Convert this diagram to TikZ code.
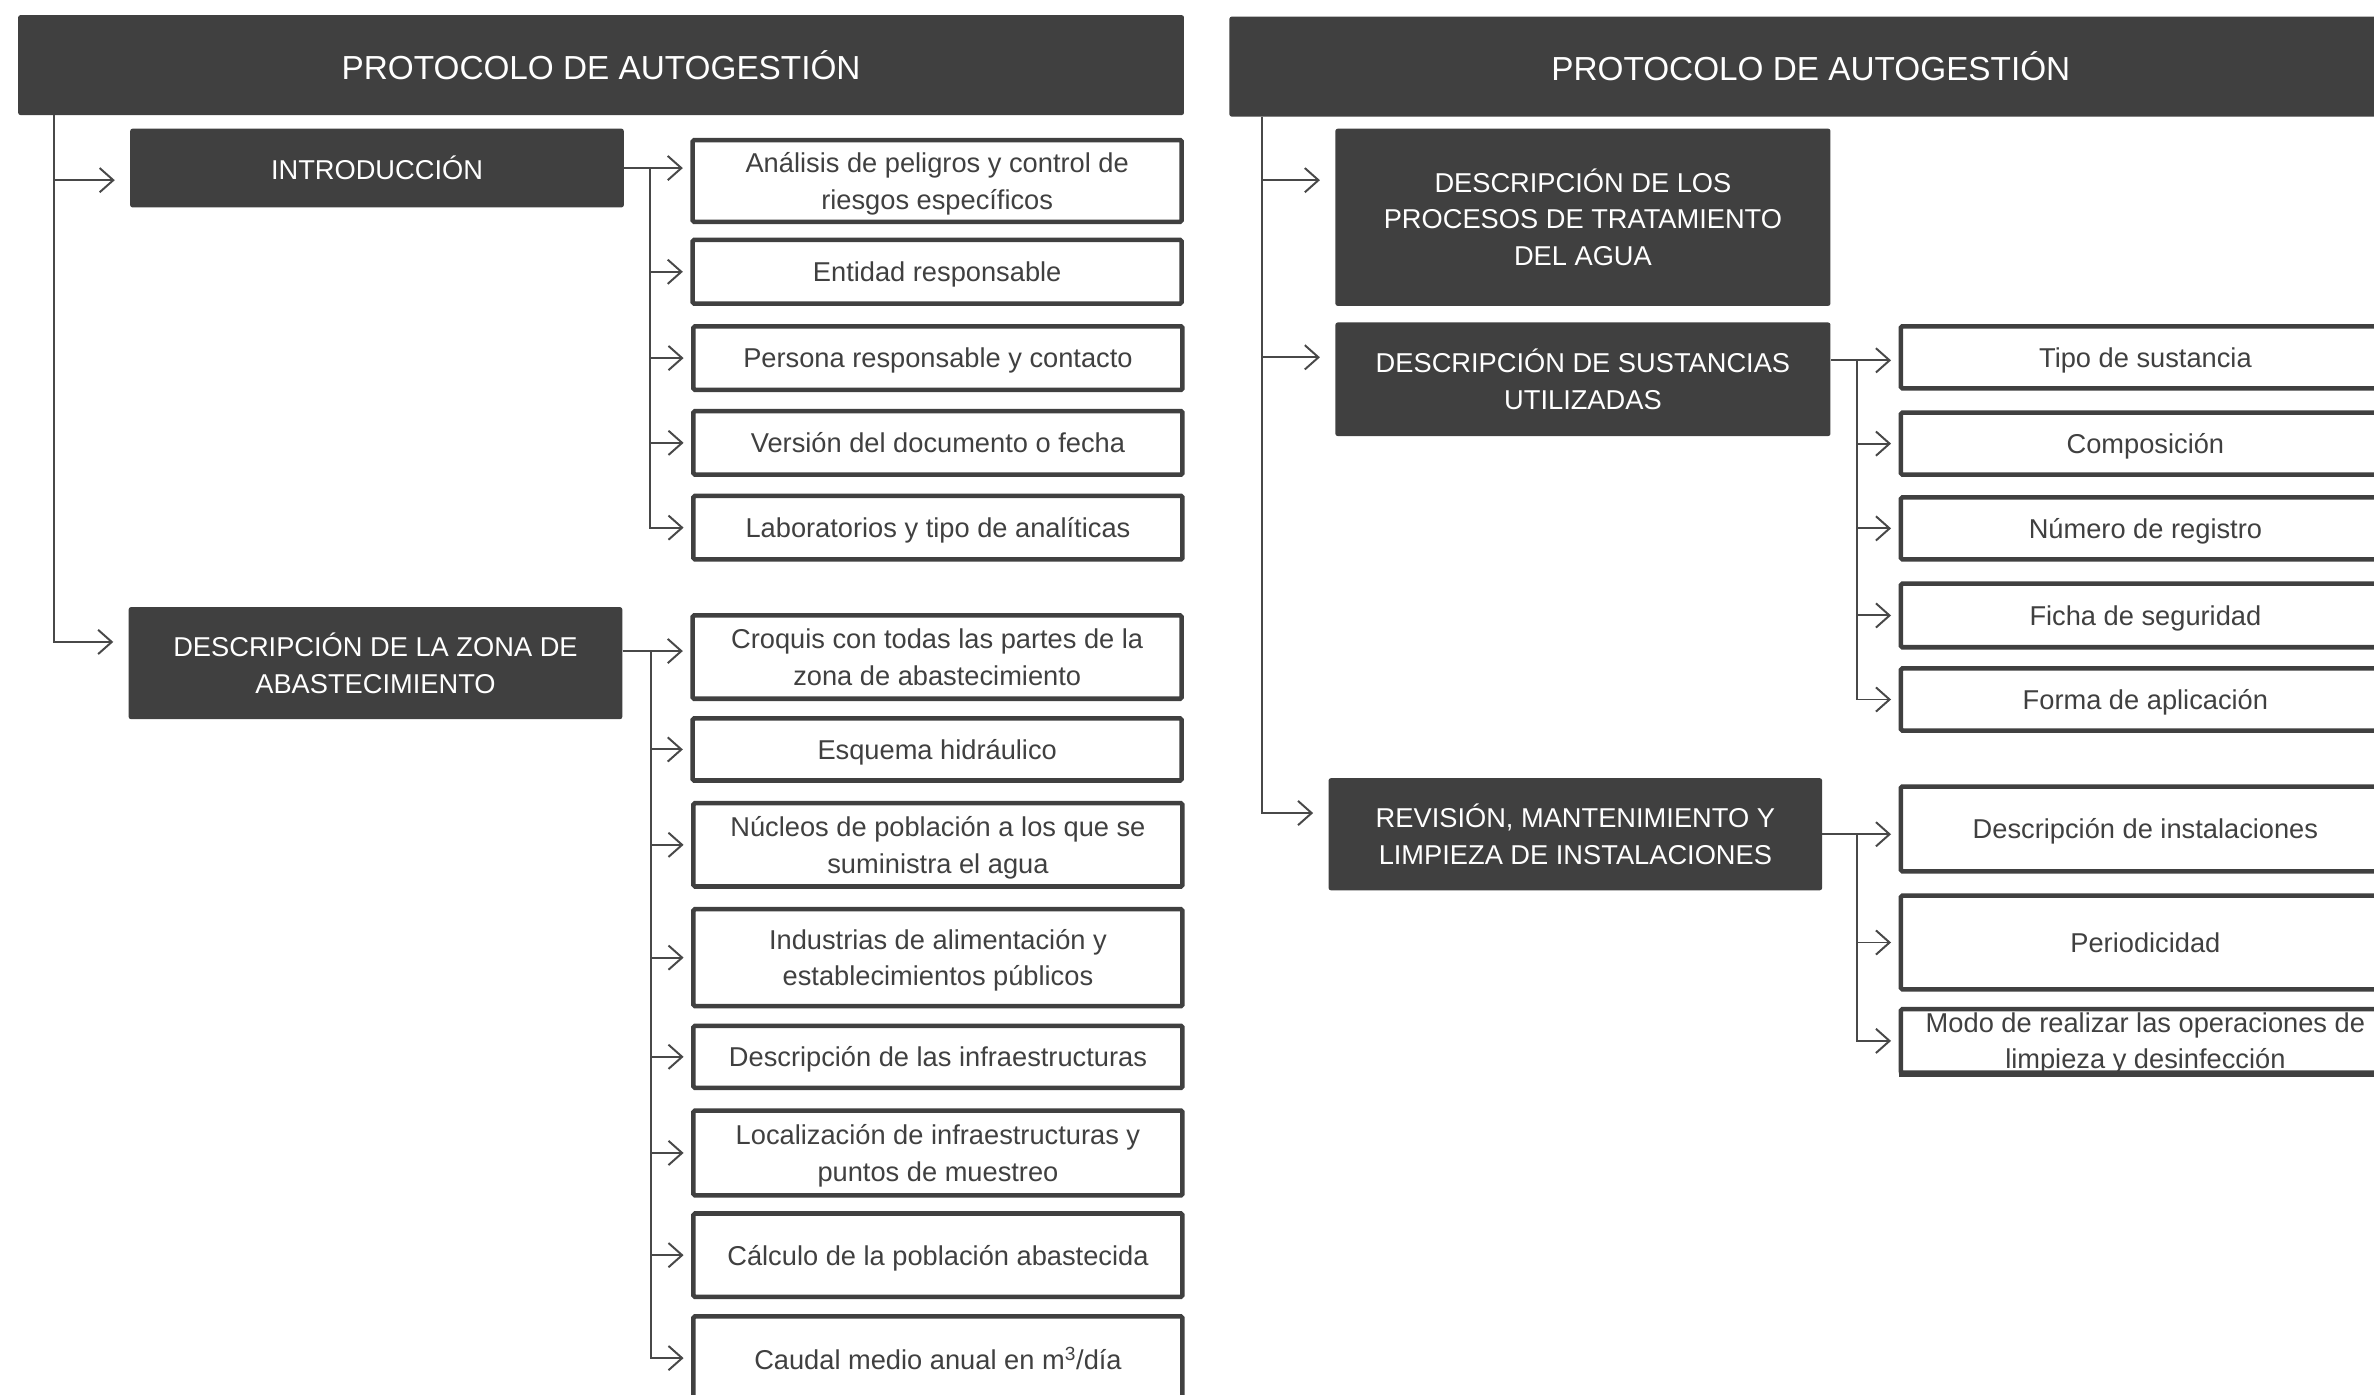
\documentclass[tikz,border=0pt]{standalone}
\usepackage{fontspec}
\setmainfont{Liberation Sans}
\usetikzlibrary{arrows.meta, positioning}
\definecolor{boxgray}{RGB}{64,64,64}
\definecolor{linegray}{RGB}{72,72,72}
\newcommand{\txtsize}[1]{\fontsize{#1}{24}\selectfont}

\begin{document}
\begin{tikzpicture}[x=1pt, y=-1pt,
        head/.style={fill=boxgray, text=white, rounded corners=1.5pt, minimum height=66pt, inner sep=0pt, font=\txtsize{22}},
        sect/.style={fill=boxgray, text=white, rounded corners=1.5pt, minimum width=326pt, align=center, inner sep=0pt, font=\txtsize{18}},
        item/.style={draw=boxgray, line width=3pt, fill=white, text=boxgray, rounded corners=1pt, minimum width=323pt, align=center, inner sep=0pt, text depth=0pt, font=\txtsize{18}},
        conn/.style={draw=linegray, line width=1.3pt},
        arrow/.style={conn, -{Straight Barb[length=9pt, width=16pt, line width=1.3pt]}, shorten >=5pt}
    ]
        \useasboundingbox (0,0) rectangle (1568,921);
        \fill[white] (0,0) rectangle (1568,921);
        \clip (0,0) rectangle (1568,921);

        % Headers
        \node[head, minimum width=770pt] (hdrL) at (397,43) {PROTOCOLO DE AUTOGESTIÓN};
        \node[head, minimum width=768pt] (hdrR) at (1196,44) {PROTOCOLO DE AUTOGESTIÓN};

        % Sections (left)
        \node[sect, minimum height=52pt] (intro) at (249,111) {INTRODUCCIÓN};
        \node[sect, minimum height=74pt] (zona) at (248,438) {DESCRIPCIÓN DE LA ZONA DE\\ABASTECIMIENTO};

        % Sections (right)
        \node[sect, minimum width=327pt, minimum height=117pt] (proc) at (1045.5,143.5) {DESCRIPCIÓN DE LOS\\PROCESOS DE TRATAMIENTO\\DEL AGUA};
        \node[sect, minimum width=327pt, minimum height=75pt] (sust) at (1045.5,250.5) {DESCRIPCIÓN DE SUSTANCIAS\\UTILIZADAS};
        \node[sect, minimum height=74pt] (revi) at (1040.5,551) {REVISIÓN, MANTENIMIENTO Y\\LIMPIEZA DE INSTALACIONES};

        % Introduction items
        \node[item, minimum height=54pt] (ana) at (619,119.5) {Análisis de peligros y control de\\riesgos específicos};
        \node[item, minimum height=42pt] (ent) at (619,179.5) {Entidad responsable};
        \node[item, minimum height=42pt] (per) at (619.5,236.5) {Persona responsable y contacto};
        \node[item, minimum height=42pt] (ver) at (619.5,292.5) {Versión del documento o fecha};
        \node[item, minimum height=42pt] (lab) at (619.5,348.5) {Laboratorios y tipo de analíticas};

        % Supply zone items
        \node[item, minimum height=55pt] (cro) at (619,434) {Croquis con todas las partes de la\\zona de abastecimiento};
        \node[item, minimum height=41pt] (esq) at (619,495) {Esquema hidráulico};
        \node[item, minimum height=55pt] (nuc) at (619.5,558) {Núcleos de población a los que se\\suministra el agua};
        \node[item, minimum height=64pt] (ind) at (619.5,632.5) {Industrias de alimentación y\\establecimientos públicos};
        \node[item, minimum height=41pt] (inf) at (619.5,698) {Descripción de las infraestructuras};
        \node[item, minimum height=56pt] (loc) at (619.5,761.5) {Localización de infraestructuras y\\puntos de muestreo};
        \node[item, minimum height=55pt] (cal) at (619.5,829) {Cálculo de la población abastecida};
        \node[item, minimum height=55pt] (cau) at (619.5,897) {Caudal medio anual en m\textsuperscript{3}/día};

        % Substance items
        \node[item, minimum height=41pt] (tipo) at (1417,236) {Tipo de sustancia};
        \node[item, minimum height=41pt] (comp) at (1417,293) {Composición};
        \node[item, minimum height=41pt] (num) at (1417,349) {Número de registro};
        \node[item, minimum height=42pt] (ficha) at (1417,406.5) {Ficha de seguridad};
        \node[item, minimum height=41pt] (forma) at (1417,462) {Forma de aplicación};

        % Maintenance items
        \node[item, minimum height=56pt] (dins) at (1417,547.5) {Descripción de instalaciones};
        \node[item, minimum height=62pt] (peri) at (1417,622.5) {Periodicidad};
        \node[item, minimum height=42pt] (modo) at (1417,687.5) {Modo de realizar las operaciones de\\limpieza y desinfección};
        \draw[boxgray, line width=3pt] (modo.south west) -- (modo.south east);

        % Trunk arrows
        \coordinate (tL) at ([xshift=24pt]hdrL.south west);
        \coordinate (tR) at ([xshift=22pt]hdrR.south west);
        \draw[arrow, shorten >=10pt] (tL) |- ([yshift=-8pt]intro.west);
        \draw[arrow, shorten >=10pt] (tL) |- ([yshift=14pt]zona.west);
        \draw[arrow, shorten >=10pt] (tR) |- ([yshift=24.5pt]proc.west);
        \draw[arrow, shorten >=10pt] (tR) |- ([yshift=14.5pt]sust.west);
        \draw[arrow, shorten >=10pt] (tR) |- ([yshift=14pt]revi.west);

        % Branch arrows
        \coordinate (bI) at ([xshift=17pt]intro.east);
        \draw[arrow] (intro.east) -- (intro.east -| ana.west);
        \foreach \n in {ent,per,ver,lab}
            \draw[arrow] (bI) |- (\n.west);

        \coordinate (zE) at ([yshift=8pt]zona.east);
        \coordinate (bZ) at ([xshift=19pt]zE);
        \draw[arrow] (zE) -- (zE -| cro.west);
        \foreach \n in {esq,nuc,ind,inf,loc,cal,cau}
            \draw[arrow] (bZ) |- (\n.west);

        \coordinate (sE) at ([yshift=12.5pt]sust.east);
        \coordinate (bS) at ([xshift=17pt]sE);
        \draw[arrow] (sE) -- (sE -| tipo.west);
        \foreach \n in {comp,num,ficha,forma}
            \draw[arrow] (bS) |- (\n.west);

        \coordinate (bR) at ([xshift=23pt]revi.east);
        \draw[arrow] (revi.east) -- (revi.east -| dins.west);
        \foreach \n in {peri,modo}
            \draw[arrow] (bR) |- (\n.west);
    \end{tikzpicture}
\end{document}
